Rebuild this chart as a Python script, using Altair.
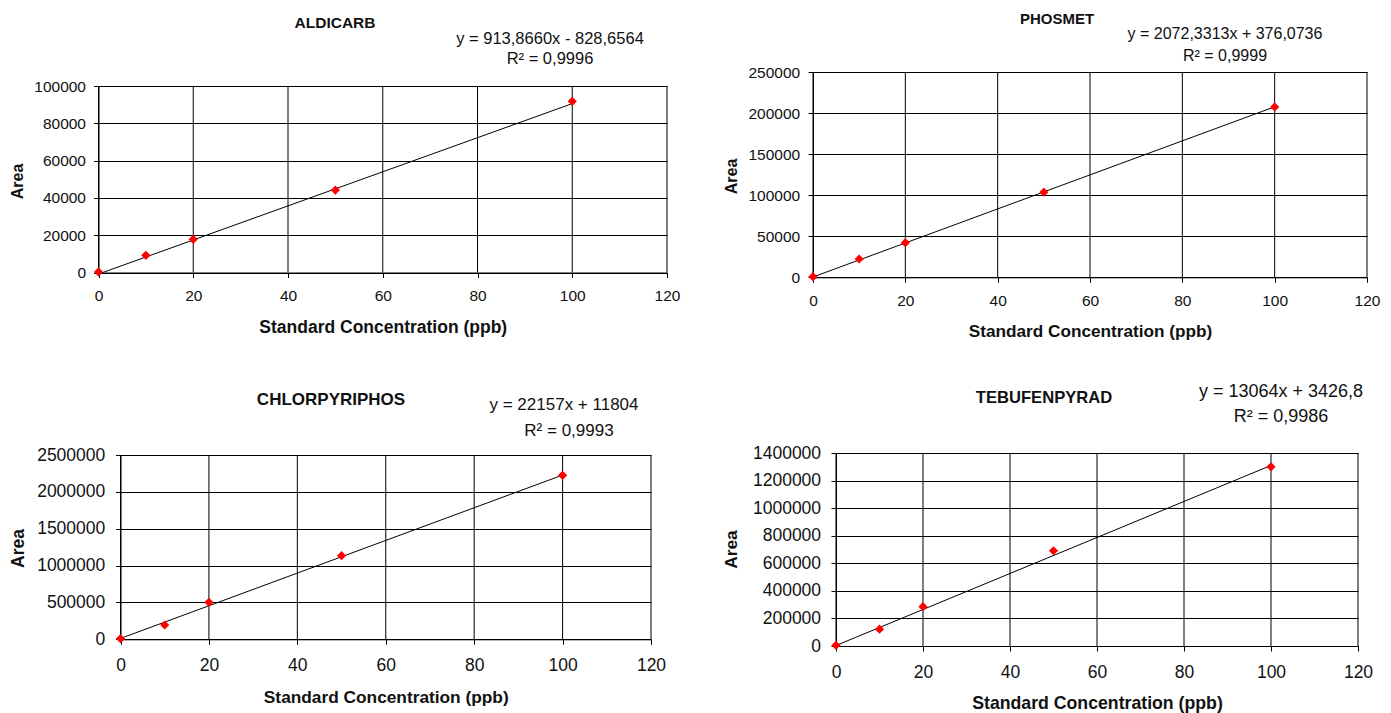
import altair as alt
import pandas as pd

# ---------------- data ----------------
compounds = ["ALDICARB", "PHOSMET", "CHLORPYRIPHOS", "TEBUFENPYRAD"]
concentrations = [0, 10, 20, 50, 100]
area_aldicarb = [300, 9200, 17800, 44200, 91800]
area_phosmet = [800, 22300, 42100, 103700, 207500]
area_chlorpyriphos = [8000, 194000, 502000, 1135000, 2224000]
area_tebufenpyrad = [5000, 122000, 285000, 691000, 1300000]
slopes = [913.8660, 2072.3313, 22157, 13064]
intercepts = [-828.6564, 376.0736, 11804, 3426.8]
equations = ["y = 913,8660x - 828,6564", "y = 2072,3313x + 376,0736",
             "y = 22157x + 11804", "y = 13064x + 3426,8"]
r2_labels = ["R\u00b2 = 0,9996", "R\u00b2 = 0,9999", "R\u00b2 = 0,9993", "R\u00b2 = 0,9986"]
y_max = [100000, 250000, 2500000, 1400000]
y_step = [20000, 50000, 500000, 200000]
x_ticks = [0, 20, 40, 60, 80, 100, 120]
x_title = "Standard Concentration (ppb)"
y_title = "Area"

areas = [area_aldicarb, area_phosmet, area_chlorpyriphos, area_tebufenpyrad]

points_df = pd.DataFrame([
    {"compound": c, "conc": x, "area": a}
    for c, vals in zip(compounds, areas)
    for x, a in zip(concentrations, vals)
])
trend_df = pd.DataFrame([
    {"compound": c, "conc": x, "slope": s, "intercept": b}
    for c, s, b in zip(compounds, slopes, intercepts)
    for x in (min(concentrations), max(concentrations))
])
vgrid_df = pd.DataFrame([
    {"compound": c, "tick": t, "y0": 0, "y1": m}
    for c, m in zip(compounds, y_max)
    for t in x_ticks
])
labels_df = pd.DataFrame({"compound": compounds, "equation": equations, "r2": r2_labels})

# ---------------- layout (page pixels) ----------------
# plot = (left, top, right, bottom)
layout = [
    dict(plot=(98.5, 86, 667, 272.5), tick_fs=15.5, xt_fs=17.5, yt_fs=16, ttl_fs=15.5,
         eq_fs=16.5, ttl=(335, 22.5), eq=(550, 38.5), r2=(550, 59),
         xlab=295.5, xtt=327, area=(17.5, 181), ygap=13),
    dict(plot=(813, 72, 1367, 277.3), tick_fs=15.5, xt_fs=17.2, yt_fs=16, ttl_fs=15,
         eq_fs=16, ttl=(1057, 18.5), eq=(1225, 33.5), r2=(1225, 55.5),
         xlab=300.5, xtt=331, area=(731, 176), ygap=13.3),
    dict(plot=(120.5, 455, 651, 639.3), tick_fs=17.5, xt_fs=17.3, yt_fs=17.5, ttl_fs=17,
         eq_fs=17, ttl=(331, 400), eq=(564, 404.5), r2=(569, 430.5),
         xlab=665.5, xtt=697.5, area=(18, 548), ygap=15.7),
    dict(plot=(836, 453, 1358, 646), tick_fs=17.5, xt_fs=17.7, yt_fs=17.3, ttl_fs=16.6,
         eq_fs=18, ttl=(1044, 398), eq=(1281, 391.5), r2=(1281, 416.5),
         xlab=672.5, xtt=703.5, area=(731, 549), ygap=15.4),
]

FONT = "Liberation Sans"
TXT = "#111111"
TICK = 5
MARGIN = 8
VIEW_W, VIEW_H = 1375, 705


def panel(i):
    L = layout[i]
    name = compounds[i]
    left, top, right, bottom = [v - MARGIN for v in L["plot"]]
    xs = alt.Scale(domain=[0, 120], range=[left, right], nice=False, zero=True)
    ys = alt.Scale(domain=[0, y_max[i]], range=[bottom, top], nice=False, zero=True)
    xaxis = alt.Axis(orient="bottom", offset=bottom - VIEW_H,
                     values=x_ticks, title=x_title, grid=False,
                     domainColor="black", tickColor="black",
                     tickSize=TICK, labelFontSize=L["tick_fs"], labelColor=TXT,
                     labelFont=FONT, labelBaseline="middle",
                     labelPadding=L["xlab"] - L["plot"][3] - TICK,
                     labelFlush=False, labelOverlap=False,
                     titleFont=FONT, titleFontSize=L["xt_fs"], titleFontWeight="bold",
                     titleColor=TXT, titleBaseline="middle", titleAlign="center",
                     titleY=L["xtt"] - L["plot"][3],
                     titleX=(left + right) / 2)
    yaxis = alt.Axis(orient="left", offset=-left,
                     values=list(range(0, y_max[i] + 1, y_step[i])), format="d",
                     title=y_title, grid=True, gridColor="black", gridWidth=1,
                     gridOpacity=1, domainColor="black", tickColor="black",
                     tickSize=TICK, labelFontSize=L["tick_fs"], labelColor=TXT,
                     labelFont=FONT, labelPadding=L["ygap"] - TICK, labelFlush=False,
                     labelOverlap=False,
                     titleFont=FONT, titleFontSize=L["yt_fs"],
                     titleFontWeight="bold", titleColor=TXT, titleAngle=270,
                     titleAlign="center", titleBaseline="middle",
                     titleX=L["area"][0] - L["plot"][0],
                     titleY=L["area"][1] - MARGIN)

    vgrid = alt.Chart(vgrid_df).transform_filter(
        alt.datum.compound == name
    ).mark_rule(color="black", strokeWidth=1).encode(
        x=alt.X("tick:Q", scale=xs, axis=xaxis),
        y=alt.Y("y0:Q", scale=ys, axis=yaxis),
        y2="y1:Q",
    )
    line = alt.Chart(trend_df).transform_filter(
        alt.datum.compound == name
    ).transform_calculate(
        fit="datum.slope * datum.conc + datum.intercept"
    ).mark_line(color="black", strokeWidth=1).encode(
        x=alt.X("conc:Q", scale=xs, axis=xaxis),
        y=alt.Y("fit:Q", scale=ys, axis=yaxis),
    )
    pts = alt.Chart(points_df).transform_filter(
        alt.datum.compound == name
    ).mark_point(shape="diamond", filled=True, color="#ff0000", size=85,
                 opacity=1).encode(
        x=alt.X("conc:Q", scale=xs, axis=xaxis),
        y=alt.Y("area:Q", scale=ys, axis=yaxis),
    )
    lab = alt.Chart(labels_df).transform_filter(alt.datum.compound == name)
    ttl = lab.mark_text(font=FONT, fontSize=L["ttl_fs"], fontWeight="bold",
                        color=TXT, align="center", baseline="middle").encode(
        x=alt.value(L["ttl"][0] - MARGIN), y=alt.value(L["ttl"][1] - MARGIN),
        text="compound:N")
    eq = lab.mark_text(font=FONT, fontSize=L["eq_fs"], color=TXT,
                       align="center", baseline="middle").encode(
        x=alt.value(L["eq"][0] - MARGIN), y=alt.value(L["eq"][1] - MARGIN),
        text="equation:N")
    r2 = lab.mark_text(font=FONT, fontSize=L["eq_fs"], color=TXT,
                       align="center", baseline="middle").encode(
        x=alt.value(L["r2"][0] - MARGIN), y=alt.value(L["r2"][1] - MARGIN),
        text="r2:N")
    return alt.layer(vgrid, line, pts, ttl, eq, r2)


chart = alt.layer(*[panel(i) for i in range(4)]).resolve_scale(
    x="independent", y="independent"
).resolve_axis(
    x="independent", y="independent"
).properties(
    width=VIEW_W, height=VIEW_H,
    padding={"left": 0, "top": 0, "right": 0, "bottom": 0},
    background="white",
).configure_view(stroke=None)

chart.save("out.html", embed_options={"renderer": "svg", "actions": False})
